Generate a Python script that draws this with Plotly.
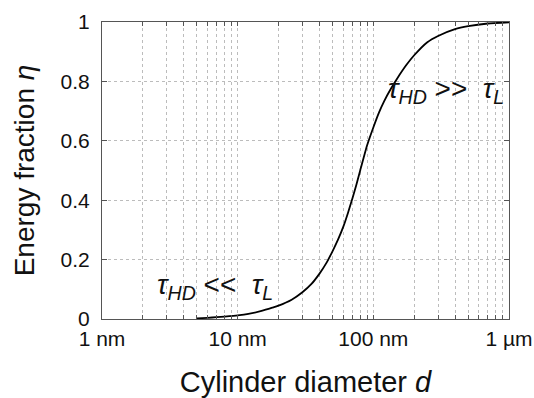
import plotly.graph_objects as go

# Cylinder diameter (nm) and energy fraction eta
diameter_nm = [5, 6, 7, 8, 10, 12, 15, 18, 20, 25, 30, 35, 40, 45, 50, 55, 60, 65,
               70, 75, 80, 90, 100, 110, 120, 135, 150, 175, 200, 250, 300, 400,
               500, 700, 1000]
eta = [0.002, 0.004, 0.006, 0.008, 0.012, 0.017, 0.027, 0.038, 0.045, 0.065, 0.09,
       0.118, 0.152, 0.188, 0.228, 0.268, 0.31, 0.357, 0.405, 0.452, 0.50, 0.585,
       0.645, 0.695, 0.733, 0.776, 0.81, 0.855, 0.888, 0.932, 0.953, 0.976, 0.986,
       0.995, 0.999]

x_major_vals = [1, 10, 100, 1000]
x_major_text = ["1 nm", "10 nm", "100 nm", "1 \u00b5m"]
y_tick_vals = [0, 0.2, 0.4, 0.6, 0.8, 1]
y_tick_text = ["0", "0.2", "0.4", "0.6", "0.8", "1"]

# all grid positions on the log axis: 1..9 in every decade
x_tick_vals = []
x_tick_text = []
for decade, label in zip(x_major_vals[:-1], x_major_text[:-1]):
    for m in range(1, 10):
        x_tick_vals.append(decade * m)
        x_tick_text.append(label if m == 1 else "")
x_tick_vals.append(x_major_vals[-1])
x_tick_text.append(x_major_text[-1])

FONT = "Liberation Sans, Arial, sans-serif"

fig = go.Figure()
fig.add_trace(go.Scatter(
    x=diameter_nm, y=eta, mode="lines",
    line=dict(color="black", width=1.8, shape="spline", smoothing=0.5),
    hoverinfo="skip", showlegend=False,
))

fig.update_layout(
    width=534, height=398,
    margin=dict(l=102, r=25, t=22, b=79, autoexpand=False),
    paper_bgcolor="white", plot_bgcolor="white",
    font=dict(family=FONT, color="#111", size=21),
    xaxis=dict(
        type="log", range=[0, 3], automargin=False,
        tickmode="array", tickvals=x_tick_vals, ticktext=x_tick_text,
        showgrid=True, gridcolor="#bcbcbc", griddash="dot", gridwidth=1,
        showline=True, linecolor="#555", linewidth=1, mirror="ticks",
        ticks="inside", ticklen=4, tickcolor="#555",
        tickfont=dict(size=21, family=FONT, color="#111"),
        ticklabelstandoff=1,
        title=dict(text="Cylinder diameter <i>d</i>",
                   font=dict(size=29, family=FONT, color="#111"), standoff=35),
        zeroline=False,
    ),
    yaxis=dict(
        range=[0, 1], automargin=False,
        tickmode="array", tickvals=y_tick_vals, ticktext=y_tick_text,
        showgrid=True, gridcolor="#bcbcbc", griddash="dot", gridwidth=1,
        showline=True, linecolor="#555", linewidth=1, mirror="ticks",
        ticks="inside", ticklen=5, tickcolor="#555",
        tickfont=dict(size=21, family=FONT, color="#111"),
        ticklabelstandoff=7,
        title=dict(text="Energy fraction <i>\u03b7</i>",
                   font=dict(size=28, family=FONT, color="#111"), standoff=17),
        zeroline=False,
    ),
)

fig.add_annotation(
    x=0.278, y=0.108, xref="paper", yref="paper", xanchor="center", yanchor="middle",
    text="<i>\u03c4<sub>HD</sub></i> &lt;&lt;  <i>\u03c4<sub>L</sub></i>",
    showarrow=False, font=dict(size=28, family=FONT, color="#111"),
)
fig.add_annotation(
    x=0.845, y=0.77, xref="paper", yref="paper", xanchor="center", yanchor="middle",
    text="<i>\u03c4<sub>HD</sub></i> &gt;&gt;  <i>\u03c4<sub>L</sub></i>",
    showarrow=False, font=dict(size=28, family=FONT, color="#111"),
)

# remove the browser's default 8 px page margin so the figure fills the window
fig.write_html(
    "out.html",
    config={"displayModeBar": False},
    default_width="534px", default_height="398px",
    post_script="document.body.style.margin='0';"
                "document.documentElement.style.overflow='hidden';",
)
